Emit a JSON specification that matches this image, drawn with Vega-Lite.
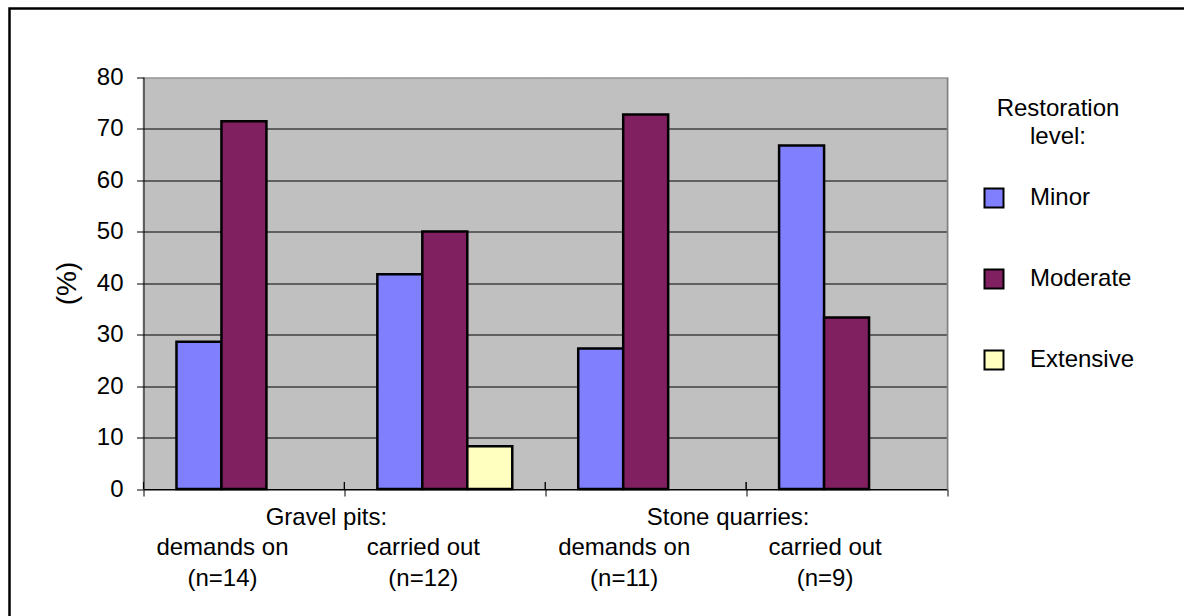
{
  "$schema": "https://vega.github.io/schema/vega-lite/v6.json",
  "width": 1177.5,
  "height": 610.5,
  "autosize": {"type": "none"},
  "padding": {"left": 9.5, "top": 8.5, "right": -3, "bottom": -3},
  "background": "white",
  "config": {
    "font": "Liberation Sans",
    "view": {"stroke": "black", "strokeWidth": 2.5, "fill": "white"},
    "axis": {
      "labelFont": "Liberation Sans",
      "titleFont": "Liberation Sans",
      "labelColor": "black",
      "titleColor": "black",
      "labelFontSize": 24
    },
    "legend": {"labelFont": "Liberation Sans", "titleFont": "Liberation Sans"}
  },
  "datasets": {
    "restoration": [
      {"site": "Gravel pits", "stage": "demands on (n=14)", "level": "Minor", "pct": 28.6},
      {"site": "Gravel pits", "stage": "demands on (n=14)", "level": "Moderate", "pct": 71.4},
      {"site": "Gravel pits", "stage": "carried out (n=12)", "level": "Minor", "pct": 41.7},
      {"site": "Gravel pits", "stage": "carried out (n=12)", "level": "Moderate", "pct": 50.0},
      {"site": "Gravel pits", "stage": "carried out (n=12)", "level": "Extensive", "pct": 8.3},
      {"site": "Stone quarries", "stage": "demands on (n=11)", "level": "Minor", "pct": 27.3},
      {"site": "Stone quarries", "stage": "demands on (n=11)", "level": "Moderate", "pct": 72.7},
      {"site": "Stone quarries", "stage": "carried out (n=9)", "level": "Minor", "pct": 66.7},
      {"site": "Stone quarries", "stage": "carried out (n=9)", "level": "Moderate", "pct": 33.3}
    ],
    "sites": [
      {"site": "Gravel pits:", "from": "carried out (n=12)"},
      {"site": "Stone quarries:", "from": "carried out (n=9)"}
    ]
  },
  "resolve": {"axis": {"x": "independent", "y": "independent"}},
  "layer": [
    {
      "data": {"name": "restoration"},
      "mark": {"type": "bar", "stroke": "black", "strokeWidth": 2.5},
      "encoding": {
        "x": {
          "field": "stage",
          "type": "nominal",
          "sort": null,
          "title": null,
          "scale": {
            "domain": ["demands on (n=14)", "carried out (n=12)", "demands on (n=11)", "carried out (n=9)"],
            "range": [134, 937.5],
            "paddingInner": 0,
            "paddingOuter": 0
          },
          "axis": {
            "orient": "bottom",
            "offset": -130,
            "tickBand": "extent",
            "ticks": true,
            "tickSize": 7,
            "tickColor": "black",
            "tickWidth": 1,
            "domain": true,
            "domainColor": "black",
            "domainWidth": 1,
            "grid": false,
            "labelAngle": 0,
            "labelExpr": "[slice(datum.label, 0, indexof(datum.label, ' (')), slice(datum.label, indexof(datum.label, ' (') + 1)]",
            "labelFontSize": 24,
            "labelLineHeight": 31.5,
            "labelPadding": 39,
            "labelOffset": -22,
            "labelOverlap": false,
            "labelBound": false,
            "labelFlush": false,
            "labelLimit": 0
          }
        },
        "xOffset": {
          "field": "level",
          "type": "nominal",
          "scale": {"domain": ["Minor", "Moderate", "Extensive"], "paddingInner": 0, "paddingOuter": 0.733}
        },
        "y": {
          "field": "pct",
          "type": "quantitative",
          "scale": {"domain": [0, 80], "range": [480.5, 68.5], "nice": false, "zero": true},
          "axis": {
            "orient": "left",
            "offset": -134,
            "values": [0, 10, 20, 30, 40, 50, 60, 70, 80],
            "tickSize": 7,
            "tickColor": "black",
            "tickWidth": 1,
            "domainColor": "black",
            "domainWidth": 1,
            "labelPadding": 13.5,
            "labelFontSize": 24,
            "grid": true,
            "gridColor": {"condition": {"test": "datum.value === 80", "value": "#808080"}, "value": "black"},
            "gridWidth": 1,
            "gridOpacity": 1,
            "title": "(%)",
            "titleFontSize": 28,
            "titleFontWeight": "normal",
            "titlePadding": 15
          }
        },
        "fill": {
          "field": "level",
          "type": "nominal",
          "scale": {"domain": ["Minor", "Moderate", "Extensive"], "range": ["#8080FF", "#802060", "#FFFFC0"]},
          "legend": {
            "orient": "none",
            "legendX": 972.5,
            "legendY": 88,
            "padding": 0,
            "title": ["Restoration", "level:"],
            "titleFontSize": 24,
            "titleFontWeight": "normal",
            "titleColor": "black",
            "titleLineHeight": 28.5,
            "titleAnchor": "middle",
            "titleAlign": "center",
            "titleBaseline": "top",
            "titlePadding": 37,
            "titleLimit": 0,
            "labelFontSize": 24,
            "labelColor": "black",
            "labelOffset": 24,
            "labelLimit": 0,
            "symbolType": "square",
            "symbolSize": 361,
            "symbolStrokeColor": "black",
            "symbolStrokeWidth": 2,
            "symbolOpacity": 1,
            "rowPadding": 53
          }
        }
      }
    },
    {
      "data": {"name": "restoration"},
      "mark": {"type": "rule", "color": "black", "strokeWidth": 1},
      "encoding": {
        "x": {
          "field": "stage",
          "type": "nominal",
          "bandPosition": 0,
          "sort": null,
          "title": null,
          "axis": null,
          "scale": {
            "domain": ["demands on (n=14)", "carried out (n=12)", "demands on (n=11)", "carried out (n=9)"],
            "range": [134, 937.5],
            "paddingInner": 0,
            "paddingOuter": 0
          }
        },
        "y": {"datum": 1.36, "type": "quantitative", "axis": null},
        "y2": {"datum": 0}
      }
    },
    {
      "data": {"name": "sites"},
      "mark": {"type": "text", "fontSize": 24, "dy": 36, "dx": -18, "baseline": "alphabetic", "align": "center", "color": "black"},
      "encoding": {
        "x": {
          "field": "from",
          "type": "nominal",
          "bandPosition": 0,
          "sort": null,
          "title": null,
          "scale": {
            "domain": ["demands on (n=14)", "carried out (n=12)", "demands on (n=11)", "carried out (n=9)"],
            "range": [134, 937.5],
            "paddingInner": 0,
            "paddingOuter": 0
          },
          "axis": {
            "orient": "top",
            "offset": 0,
            "bandPosition": 0.5,
            "labels": false,
            "ticks": false,
            "domain": false,
            "grid": true,
            "gridColor": "#C0C0C0",
            "gridWidth": 203,
            "gridOpacity": 1
          }
        },
        "y": {
          "datum": 0,
          "type": "quantitative",
          "axis": {
            "orient": "right",
            "offset": -240,
            "title": null,
            "labels": false,
            "ticks": false,
            "grid": false,
            "domain": true,
            "domainColor": "#808080",
            "domainWidth": 1.5
          }
        },
        "text": {"field": "site"}
      }
    }
  ]
}
